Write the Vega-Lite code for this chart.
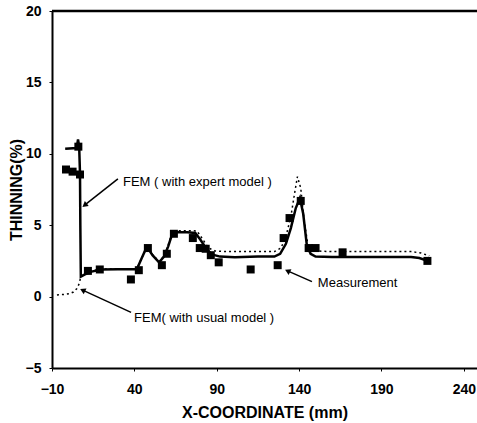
{
  "$schema": "https://vega.github.io/schema/vega-lite/v6.json",
  "width": 425,
  "height": 357,
  "autosize": "none",
  "padding": {"left": 52, "top": 11, "right": 0, "bottom": 55},
  "background": "white",
  "config": {
    "view": {"stroke": null},
    "font": "Liberation Sans",
    "axis": {"grid": false, "labelFlush": false, "domainColor": "black", "domainWidth": 2, "tickColor": "black", "labelColor": "black", "titleColor": "black", "labelFont": "Liberation Sans", "titleFont": "Liberation Sans", "labelFontWeight": "bold", "titleFontWeight": "bold", "labelFontSize": 14, "titleFontSize": 16}
  },
  "datasets": {
    "expert": [
      {"x": -2, "y": 10.35}, {"x": 5, "y": 10.4}, {"x": 5.8, "y": 11.0}, {"x": 6.5, "y": 10.5}, {"x": 7, "y": 8.6}, {"x": 7.2, "y": 5.0}, {"x": 7.5, "y": 1.4},
      {"x": 10, "y": 1.55}, {"x": 14, "y": 1.75}, {"x": 20, "y": 1.9}, {"x": 30, "y": 1.92}, {"x": 41.5, "y": 1.92},
      {"x": 44.5, "y": 2.7}, {"x": 47.6, "y": 3.5}, {"x": 51, "y": 2.9}, {"x": 55, "y": 2.4}, {"x": 58, "y": 2.8}, {"x": 60.5, "y": 3.5}, {"x": 63, "y": 4.4},
      {"x": 66, "y": 4.5}, {"x": 72, "y": 4.5}, {"x": 77, "y": 4.45}, {"x": 80, "y": 4.0}, {"x": 84, "y": 3.3}, {"x": 87, "y": 2.95}, {"x": 92, "y": 2.8}, {"x": 101, "y": 2.75},
      {"x": 115, "y": 2.8}, {"x": 125, "y": 2.8}, {"x": 128.5, "y": 3.0}, {"x": 132, "y": 3.7}, {"x": 135, "y": 4.8}, {"x": 138, "y": 6.2}, {"x": 140.5, "y": 6.9},
      {"x": 142.5, "y": 5.8}, {"x": 144.7, "y": 3.6}, {"x": 147, "y": 3.0}, {"x": 150, "y": 2.8}, {"x": 160, "y": 2.78}, {"x": 190, "y": 2.78}, {"x": 208, "y": 2.78},
      {"x": 213, "y": 2.7}, {"x": 218, "y": 2.5}
    ],
    "usual": [
      {"x": -7, "y": 0.12}, {"x": -3, "y": 0.15}, {"x": 1, "y": 0.22}, {"x": 3, "y": 0.32}, {"x": 5, "y": 0.55}, {"x": 6.5, "y": 0.9}, {"x": 7.5, "y": 1.4},
      {"x": 10, "y": 1.6}, {"x": 14, "y": 1.8}, {"x": 20, "y": 1.92}, {"x": 30, "y": 1.95}, {"x": 41.5, "y": 1.95},
      {"x": 44.5, "y": 2.7}, {"x": 47.6, "y": 3.5}, {"x": 51, "y": 2.95}, {"x": 55, "y": 2.45}, {"x": 58, "y": 2.85}, {"x": 60.5, "y": 3.6}, {"x": 63, "y": 4.5},
      {"x": 66, "y": 4.6}, {"x": 72, "y": 4.62}, {"x": 78, "y": 4.6}, {"x": 81, "y": 4.1}, {"x": 85, "y": 3.4}, {"x": 89, "y": 3.2}, {"x": 95, "y": 3.15}, {"x": 110, "y": 3.15},
      {"x": 125, "y": 3.15}, {"x": 129, "y": 3.4}, {"x": 132, "y": 4.2}, {"x": 135, "y": 5.6}, {"x": 137.5, "y": 7.4}, {"x": 139, "y": 8.4},
      {"x": 141, "y": 7.6}, {"x": 143, "y": 5.4}, {"x": 145.5, "y": 3.5}, {"x": 149, "y": 3.2}, {"x": 160, "y": 3.15}, {"x": 190, "y": 3.15}, {"x": 208, "y": 3.15},
      {"x": 214, "y": 3.05}, {"x": 219, "y": 2.85}
    ],
    "measurement": [
      {"x": -1.5, "y": 8.9}, {"x": 2.5, "y": 8.75}, {"x": 7, "y": 8.55}, {"x": 6, "y": 10.5},
      {"x": 11.8, "y": 1.8}, {"x": 19, "y": 1.9}, {"x": 37.9, "y": 1.2}, {"x": 42.7, "y": 1.85}, {"x": 48.2, "y": 3.4},
      {"x": 56.7, "y": 2.2}, {"x": 59.7, "y": 3.0}, {"x": 64, "y": 4.4}, {"x": 75.5, "y": 4.1}, {"x": 79.7, "y": 3.4}, {"x": 83.3, "y": 3.35},
      {"x": 86.4, "y": 2.9}, {"x": 91.2, "y": 2.4}, {"x": 110.6, "y": 1.9}, {"x": 127, "y": 2.2}, {"x": 130.6, "y": 4.1}, {"x": 134.2, "y": 5.5},
      {"x": 141, "y": 6.7}, {"x": 145.8, "y": 3.4}, {"x": 150, "y": 3.4}, {"x": 166.4, "y": 3.1}, {"x": 217.9, "y": 2.5}
    ],
    "labels": [
      {"x": 33.1, "y": 8.05, "text": "FEM ( with expert model )"},
      {"x": 39.8, "y": -1.47, "text": "FEM( with usual model )"},
      {"x": 151.4, "y": 0.98, "text": "Measurement"}
    ],
    "arrows": [
      {"x": 30.0, "y": 8.24, "x2": 9.8, "y2": 6.4},
      {"x": 38.0, "y": -1.1, "x2": 8.6, "y2": 0.45},
      {"x": 147.8, "y": 1.05, "x2": 133.0, "y2": 1.8}
    ],
    "frame": [
      {"x": -10, "x2": 248, "y": 20}
    ]
  },
  "layer": [
    {
      "data": {"name": "expert"},
      "mark": {"type": "line", "color": "black", "strokeWidth": 2.5},
      "encoding": {
        "x": {"field": "x", "type": "quantitative", "scale": {"domain": [-10, 248], "nice": false}, "axis": {"values": [-10, 40, 90, 140, 190, 240], "title": "X-COORDINATE (mm)", "tickSize": 3, "labelPadding": 11, "titlePadding": 8}},
        "y": {"field": "y", "type": "quantitative", "scale": {"domain": [-5, 20], "nice": false}, "axis": {"values": [-5, 0, 5, 10, 15, 20], "title": "THINNING(%)", "tickSize": 3, "labelPadding": 8, "titlePadding": 1}},
        "order": {"field": "x", "type": "quantitative"}
      }
    },
    {
      "data": {"name": "usual"},
      "mark": {"type": "line", "color": "black", "strokeWidth": 1.5, "strokeDash": [2, 3]},
      "encoding": {
        "x": {"field": "x", "type": "quantitative"},
        "y": {"field": "y", "type": "quantitative"}
      }
    },
    {
      "data": {"name": "measurement"},
      "mark": {"type": "point", "shape": "square", "filled": true, "color": "black", "opacity": 1, "size": 64},
      "encoding": {
        "x": {"field": "x", "type": "quantitative"},
        "y": {"field": "y", "type": "quantitative"}
      }
    },
    {
      "data": {"name": "arrows"},
      "mark": {"type": "rule", "color": "black", "strokeWidth": 1.5},
      "encoding": {
        "x": {"field": "x", "type": "quantitative"},
        "y": {"field": "y", "type": "quantitative"},
        "x2": {"field": "x2"},
        "y2": {"field": "y2"}
      }
    },
    {
      "data": {"name": "arrows"},
      "transform": [{"filter": "datum.x < 31"}],
      "mark": {"type": "point", "shape": "triangle-up", "filled": true, "color": "black", "opacity": 1, "size": 40, "angle": 232},
      "encoding": {
        "x": {"field": "x2", "type": "quantitative"},
        "y": {"field": "y2", "type": "quantitative"}
      }
    },
    {
      "data": {"name": "arrows"},
      "transform": [{"filter": "datum.x > 31"}],
      "mark": {"type": "point", "shape": "triangle-up", "filled": true, "color": "black", "opacity": 1, "size": 40, "angle": 296},
      "encoding": {
        "x": {"field": "x2", "type": "quantitative"},
        "y": {"field": "y2", "type": "quantitative"}
      }
    },
    {
      "data": {"name": "labels"},
      "mark": {"type": "text", "align": "left", "baseline": "middle", "fontSize": 13, "font": "Liberation Sans", "color": "black"},
      "encoding": {
        "x": {"field": "x", "type": "quantitative"},
        "y": {"field": "y", "type": "quantitative"},
        "text": {"field": "text"}
      }
    },
    {
      "data": {"name": "frame"},
      "mark": {"type": "rule", "color": "black", "strokeWidth": 2.5},
      "encoding": {
        "x": {"field": "x", "type": "quantitative"},
        "x2": {"field": "x2"},
        "y": {"field": "y", "type": "quantitative"}
      }
    }
  ]
}
